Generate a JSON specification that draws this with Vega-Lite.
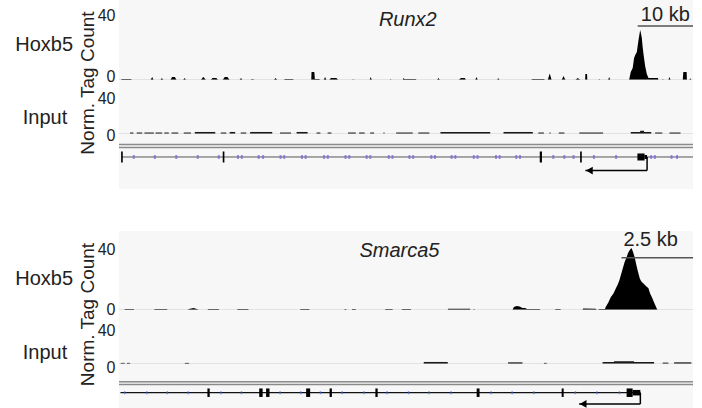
{
"$schema": "https://vega.github.io/schema/vega-lite/v6.json",
"padding": {"left": 15, "top": 0, "right": 0, "bottom": 0},
"spacing": 0,
"bounds": "flush",
"config": {
  "font": "Liberation Sans",
  "view": {"stroke": null, "fill": "#f7f7f7"},
  "axis": {"grid": false, "domain": false, "ticks": false, "labelFontSize": 16, "labelColor": "#222", "labelPadding": 4, "titleColor": "#222", "titleFontWeight": "normal", "labelBaseline": "middle"},
  "title": {"fontWeight": "normal", "color": "#222", "fontSize": 20}
},
"resolve": {"scale": {"x": "independent", "y": "independent"}},
"datasets": {
  "hoxTop": [
    {"pos":0,"v":0},{"pos":0.36,"v":0},{"pos":0.5,"v":0.7},{"pos":2.2,"v":0.7},{"pos":2.3,"v":0},
    {"pos":5.7,"v":0},{"pos":6.0,"v":2},{"pos":6.25,"v":0},
    {"pos":7.5,"v":0},{"pos":7.75,"v":1.3},{"pos":8.0,"v":0},
    {"pos":9.3,"v":0},{"pos":9.6,"v":2},{"pos":10.1,"v":2},{"pos":10.4,"v":0},
    {"pos":11.6,"v":0},{"pos":11.85,"v":1.3},{"pos":12.1,"v":0},
    {"pos":14.8,"v":0},{"pos":15.2,"v":2},{"pos":15.4,"v":1.5},{"pos":15.7,"v":0},
    {"pos":16.6,"v":0},{"pos":16.9,"v":1.3},{"pos":17.6,"v":1.3},{"pos":17.9,"v":0},
    {"pos":18.75,"v":0},{"pos":19.1,"v":2},{"pos":19.6,"v":2},{"pos":20.0,"v":0},
    {"pos":21.8,"v":0},{"pos":22.05,"v":1.3},{"pos":22.3,"v":0},
    {"pos":23.8,"v":0},{"pos":24.1,"v":0.7},{"pos":24.5,"v":0},
    {"pos":28.0,"v":0},{"pos":28.3,"v":1.3},{"pos":28.6,"v":0},
    {"pos":29.8,"v":0},{"pos":30.0,"v":0.7},{"pos":31.4,"v":0.7},{"pos":31.6,"v":0},
    {"pos":34.75,"v":0},{"pos":34.8,"v":5.3},{"pos":35.3,"v":5.3},{"pos":35.4,"v":0.7},{"pos":36.2,"v":0.7},{"pos":36.3,"v":0},
    {"pos":37.0,"v":0},{"pos":37.25,"v":2},{"pos":37.5,"v":0},
    {"pos":38.0,"v":0},{"pos":38.3,"v":1.3},{"pos":39.3,"v":1.3},{"pos":39.6,"v":0},
    {"pos":42.2,"v":0},{"pos":42.3,"v":0.7},{"pos":42.45,"v":0},
    {"pos":45.3,"v":0},{"pos":45.5,"v":2},{"pos":45.7,"v":0},
    {"pos":49.0,"v":0},{"pos":49.1,"v":0.7},{"pos":49.25,"v":0},
    {"pos":51.3,"v":0},{"pos":51.4,"v":1.3},{"pos":51.6,"v":0.7},{"pos":53.6,"v":0.7},{"pos":53.8,"v":0},
    {"pos":57.5,"v":0},{"pos":57.75,"v":1.3},{"pos":58.0,"v":0},
    {"pos":61.4,"v":0},{"pos":61.8,"v":1.3},{"pos":62.5,"v":1.3},{"pos":62.7,"v":0},
    {"pos":64.4,"v":0},{"pos":64.6,"v":2},{"pos":64.85,"v":0},
    {"pos":68.35,"v":0},{"pos":68.55,"v":1.3},{"pos":68.75,"v":0},
    {"pos":74.5,"v":0},{"pos":74.7,"v":0.7},{"pos":76.8,"v":0.7},{"pos":77.0,"v":0},
    {"pos":77.5,"v":0},{"pos":77.85,"v":4.3},{"pos":78.2,"v":0},
    {"pos":80.0,"v":0},{"pos":80.35,"v":2.7},{"pos":80.7,"v":0},
    {"pos":82.5,"v":0},{"pos":82.9,"v":1.3},{"pos":83.4,"v":0},
    {"pos":84.25,"v":0},{"pos":84.3,"v":4},{"pos":84.6,"v":4},{"pos":84.65,"v":0},
    {"pos":86.7,"v":0},{"pos":86.8,"v":0.7},{"pos":86.95,"v":0},
    {"pos":88.4,"v":0},{"pos":88.6,"v":2},{"pos":88.8,"v":0},
    {"pos":92.2,"v":0},{"pos":92.5,"v":5.3},{"pos":92.85,"v":8},{"pos":93.1,"v":14.7},{"pos":93.35,"v":17},{"pos":93.6,"v":18.7},{"pos":93.9,"v":26.7},{"pos":94.05,"v":30},{"pos":94.2,"v":33.3},{"pos":94.35,"v":31},{"pos":94.5,"v":28},{"pos":94.65,"v":22},{"pos":94.8,"v":17.3},{"pos":95.1,"v":9.3},{"pos":95.4,"v":4},{"pos":95.7,"v":1.3},{"pos":96.4,"v":1.3},{"pos":97.4,"v":1.3},{"pos":97.5,"v":0},
    {"pos":98.2,"v":0},{"pos":98.3,"v":0.7},{"pos":98.45,"v":0},
    {"pos":99.3,"v":0},{"pos":99.5,"v":2},{"pos":99.7,"v":0},
    {"pos":101.9,"v":0},{"pos":102.0,"v":5.3},{"pos":102.6,"v":5.3},{"pos":102.65,"v":0},
    {"pos":103.1,"v":0},{"pos":103.25,"v":1.3},{"pos":103.4,"v":0},{"pos":103.75,"v":0}
  ],
  "inTop": [
    {"start":2.0,"end":2.6,"v":1.6},{"start":3.2,"end":4.2,"v":1.6},{"start":4.6,"end":6.3,"v":1.6},{"start":6.6,"end":7.8,"v":1.6},{"start":8.2,"end":9.0,"v":1.6},{"start":9.5,"end":10.7,"v":1.6},
    {"start":11.7,"end":13.0,"v":1.6},{"start":13.7,"end":17.4,"v":2.2},{"start":18.4,"end":19.4,"v":1.6},{"start":20.0,"end":21.0,"v":2.2},{"start":22.0,"end":23.0,"v":1.6},{"start":23.7,"end":27.7,"v":2.2},
    {"start":29.1,"end":31.1,"v":1.6},{"start":32.1,"end":34.1,"v":2.2},{"start":35.7,"end":36.4,"v":1.6},{"start":37.7,"end":38.4,"v":1.6},{"start":41.4,"end":42.8,"v":1.6},{"start":43.4,"end":44.4,"v":1.6},
    {"start":45.4,"end":46.1,"v":1.6},{"start":47.8,"end":48.0,"v":1.6},{"start":50.1,"end":53.1,"v":1.6},{"start":54.1,"end":56.1,"v":1.6},{"start":58.1,"end":67.1,"v":2.2},{"start":69.5,"end":74.8,"v":2.2},
    {"start":75.8,"end":76.8,"v":1.6},{"start":77.8,"end":78.0,"v":1.6},{"start":79.5,"end":80.5,"v":1.6},{"start":83.2,"end":87.5,"v":1.6},{"start":92.5,"end":96.2,"v":2.2},{"start":94.2,"end":94.9,"v":3.5},
    {"start":96.9,"end":98.2,"v":1.6},{"start":99.5,"end":101.5,"v":1.6}
  ],
  "intTop": [
    {"pos":2.67},{"pos":6.48},{"pos":10.35},{"pos":14.23},{"pos":18.04},
    {"pos":21.5},{"pos":22.2},{"pos":25.25},{"pos":26.05},{"pos":29.2},{"pos":29.86},{"pos":33.07},{"pos":33.73},{"pos":37.07},{"pos":37.74},
    {"pos":40.95},{"pos":41.62},{"pos":44.76},{"pos":45.42},{"pos":48.76},{"pos":49.43},{"pos":52.5},{"pos":53.17},{"pos":56.45},{"pos":57.11},
    {"pos":60.12},{"pos":60.79},{"pos":64.13},{"pos":64.8},{"pos":68.14},{"pos":68.8},{"pos":71.81},{"pos":72.48},
    {"pos":78.49},{"pos":80.49},{"pos":82.16},{"pos":85.84},{"pos":89.85},{"pos":96.19},{"pos":96.86},{"pos":99.87},{"pos":100.87}
  ],
  "exTop": [
    {"start":0.38,"end":0.68,"part":"exon"},{"start":18.75,"end":19.05,"part":"exon"},{"start":76.05,"end":76.45,"part":"exon"},{"start":83.35,"end":83.65,"part":"exon"},
    {"start":93.7,"end":95.0,"part":"block"},{"start":95.0,"end":95.45,"part":"utr"}
  ],
  "tssTop": [{"tss":95.45,"tip":84.3}],
  "hoxBot": [
    {"pos":0,"v":0},{"pos":0.19,"v":0},{"pos":0.2,"v":0.7},{"pos":0.52,"v":0.7},{"pos":0.53,"v":0},
    {"pos":1.23,"v":0},{"pos":1.24,"v":0.7},{"pos":1.68,"v":0.7},{"pos":1.69,"v":0},
    {"pos":2.39,"v":0},{"pos":2.45,"v":0.7},{"pos":2.6,"v":1.3},{"pos":2.72,"v":0.7},{"pos":2.78,"v":0},
    {"pos":3.1,"v":0},{"pos":3.11,"v":0.7},{"pos":3.49,"v":0.7},{"pos":3.5,"v":0},
    {"pos":4.13,"v":0},{"pos":4.14,"v":0.7},{"pos":4.52,"v":0.7},{"pos":4.53,"v":0},
    {"pos":6.33,"v":0},{"pos":6.34,"v":0.7},{"pos":6.65,"v":0.7},{"pos":6.66,"v":0},
    {"pos":7.88,"v":0},{"pos":7.89,"v":0.7},{"pos":7.94,"v":0.7},{"pos":7.95,"v":0},
    {"pos":8.14,"v":0},{"pos":8.15,"v":0.7},{"pos":8.27,"v":0.7},{"pos":8.28,"v":0},
    {"pos":9.3,"v":0},{"pos":9.31,"v":0.7},{"pos":9.56,"v":0.7},{"pos":9.57,"v":0},
    {"pos":9.88,"v":0},{"pos":9.89,"v":0.7},{"pos":10.2,"v":0.7},{"pos":10.21,"v":0},
    {"pos":11.49,"v":0},{"pos":11.5,"v":0.9},{"pos":12.27,"v":0.9},{"pos":12.28,"v":0},
    {"pos":12.38,"v":0},{"pos":12.4,"v":0.7},{"pos":12.45,"v":0},
    {"pos":13.75,"v":0},{"pos":13.8,"v":2},{"pos":13.9,"v":2.7},{"pos":14.0,"v":2.3},{"pos":14.1,"v":1.3},{"pos":14.2,"v":1.3},{"pos":14.25,"v":0.7},{"pos":14.7,"v":0.7},{"pos":14.72,"v":0},
    {"pos":15.24,"v":0},{"pos":15.25,"v":0.7},{"pos":15.43,"v":0.7},{"pos":15.44,"v":0},
    {"pos":16.2,"v":0},{"pos":16.22,"v":1},{"pos":16.66,"v":0.8},{"pos":16.7,"v":0},
    {"pos":16.75,"v":0},{"pos":16.77,"v":0.7},{"pos":16.98,"v":0.7},
    {"pos":17.01,"v":2},{"pos":17.1,"v":5},{"pos":17.19,"v":8.7},{"pos":17.28,"v":11},{"pos":17.37,"v":14.7},{"pos":17.43,"v":17},{"pos":17.49,"v":20},{"pos":17.55,"v":24},{"pos":17.61,"v":28},{"pos":17.67,"v":32},{"pos":17.73,"v":34.7},{"pos":17.79,"v":38},{"pos":17.85,"v":40},{"pos":17.91,"v":41.3},{"pos":17.96,"v":39},{"pos":18.02,"v":35.3},{"pos":18.08,"v":30},{"pos":18.14,"v":25.3},{"pos":18.2,"v":21},{"pos":18.24,"v":19.5},{"pos":18.27,"v":18.7},{"pos":18.32,"v":17.8},{"pos":18.38,"v":16.7},{"pos":18.44,"v":15.5},{"pos":18.5,"v":14.7},{"pos":18.56,"v":11},{"pos":18.62,"v":8.7},{"pos":18.7,"v":5},{"pos":18.8,"v":0.7},{"pos":18.82,"v":0},{"pos":20.06,"v":0}
  ],
  "inBot": [
    {"start":0.06,"end":0.2,"v":1.2},{"start":0.28,"end":0.39,"v":1.2},{"start":2.3,"end":2.45,"v":1.2},{"start":10.65,"end":11.49,"v":2.2},{"start":13.6,"end":14.1,"v":1.8},
    {"start":14.85,"end":14.95,"v":1.2},{"start":16.9,"end":18.7,"v":2.2},{"start":17.3,"end":18.0,"v":3.0},{"start":19.0,"end":19.2,"v":1.5},{"start":19.4,"end":20.0,"v":1.8}
  ],
  "intBot": [
    {"pos":0.2},{"pos":0.97},{"pos":1.69},{"pos":2.42},{"pos":3.56},{"pos":4.28},{"pos":5.63},{"pos":6.35},{"pos":7.04},{"pos":7.8},{"pos":8.56},
    {"pos":9.36},{"pos":10.12},{"pos":10.84},{"pos":11.6},{"pos":13.0},{"pos":13.74},{"pos":14.5},{"pos":15.95},{"pos":16.7},{"pos":17.49}
  ],
  "exBot": [
    {"start":3.09,"end":3.17,"part":"exon"},{"start":4.9,"end":5.02,"part":"exon"},{"start":5.14,"end":5.26,"part":"exon"},{"start":6.54,"end":6.68,"part":"exon"},
    {"start":7.36,"end":7.44,"part":"exon"},{"start":8.96,"end":9.04,"part":"exon"},{"start":12.5,"end":12.6,"part":"exon"},{"start":15.47,"end":15.54,"part":"exon"},
    {"start":17.74,"end":17.95,"part":"exon"},{"start":17.95,"end":18.22,"part":"utr"}
  ],
  "tssBot": [{"tss":18.22,"tip":16.08}]
},
"vconcat": [
  {
    "width": 574, "height": 80,
    "title": {"text": "Hoxb5", "orient": "left", "angle": 0, "align": "left", "baseline": "middle", "anchor": "middle", "frame": "group", "offset": 5, "dy": 5},
    "layer": [
      {"data": {"name": "hoxTop"}, "mark": {"type": "area", "color": "#000", "interpolate": "linear"},
       "encoding": {
         "x": {"field": "pos", "type": "quantitative", "scale": {"domain": [0, 103.75], "nice": false, "zero": false}, "axis": null},
         "y": {"field": "v", "type": "quantitative", "scale": {"domain": [0, 53.33], "nice": false}, "axis": {"values": [0, 40], "title": "Norm. Tag Count", "titleFontSize": 19, "titleAngle": -90, "titleX": -32, "titleY": 82.5, "titleAlign": "center", "titleBaseline": "middle", "labelOffset": -4}}
       }},
      {"data": {"values": [{"pos": 0}]}, "mark": {"type": "rule", "color": "#cfcfcf", "strokeWidth": 1}, "encoding": {"y": {"field": "pos", "type": "quantitative"}}},
      {"data": {"values": [{"start": 93.75, "end": 103.75, "h": 36}]}, "mark": {"type": "rule", "color": "#555", "strokeWidth": 1.5},
       "encoding": {"x": {"field": "start", "type": "quantitative"}, "x2": {"field": "end"}, "y": {"field": "h", "type": "quantitative"}}},
      {"data": {"values": [{"mid": 98.75, "h": 43.3, "label": "10 kb"}]}, "mark": {"type": "text", "fontSize": 20, "color": "#222"},
       "encoding": {"x": {"field": "mid", "type": "quantitative"}, "y": {"field": "h", "type": "quantitative"}, "text": {"field": "label", "type": "nominal"}}},
      {"data": {"values": [{"gene": "Runx2", "pos": 52.2, "h": 40.3}]}, "mark": {"type": "text", "fontSize": 20, "fontStyle": "italic", "color": "#222"},
       "encoding": {"x": {"field": "pos", "type": "quantitative"}, "y": {"field": "h", "type": "quantitative"}, "text": {"field": "gene", "type": "nominal"}}}
    ]
  },
  {
    "width": 574, "height": 54,
    "title": {"text": "Input", "orient": "left", "angle": 0, "align": "left", "baseline": "middle", "anchor": "middle", "frame": "group", "offset": 30, "dy": 11},
    "layer": [
      {"data": {"name": "inTop"}, "mark": {"type": "rect", "color": "#1a1a1a"},
       "encoding": {
         "x": {"field": "start", "type": "quantitative", "scale": {"domain": [0, 103.75], "nice": false, "zero": false}, "axis": null},
         "x2": {"field": "end"},
         "y": {"field": "v", "type": "quantitative", "scale": {"domain": [0, 58.38], "nice": false}, "axis": {"values": [0, 40], "title": null, "labelOffset": 1}},
         "y2": {"datum": 0}
       }},
      {"data": {"values": [{"v": 0}]}, "mark": {"type": "rule", "color": "#cfcfcf", "strokeWidth": 1}, "encoding": {"y": {"field": "v", "type": "quantitative"}}}
    ]
  },
  {
    "width": 574, "height": 97,
    "layer": [
      {"data": {"values": [{"a": 0, "b": 103.75, "y1": 10, "y2": 17.64}]}, "mark": {"type": "rect", "color": "white"},
       "encoding": {"x": {"field": "a", "type": "quantitative", "scale": {"domain": [0, 103.75], "nice": false, "zero": false}, "axis": null}, "x2": {"field": "b"},
                    "y": {"field": "y1", "type": "quantitative", "scale": {"domain": [0, 17.64], "reverse": true, "nice": false, "zero": false}, "axis": null}, "y2": {"field": "y2"}}},
      {"data": {"values": [{"a": 0, "b": 103.75, "lane": 1.91}, {"a": 0, "b": 103.75, "lane": 2.45}]}, "mark": {"type": "rule", "color": "#8a8a8a", "strokeWidth": 1.5},
       "encoding": {"x": {"field": "a", "type": "quantitative"}, "x2": {"field": "b"}, "y": {"field": "lane", "type": "quantitative"}}},
      {"data": {"values": [{"start": 0.53, "end": 103.75, "lane": 4.18}]}, "mark": {"type": "rule", "color": "#555", "strokeWidth": 1},
       "encoding": {"x": {"field": "start", "type": "quantitative"}, "x2": {"field": "end"}, "y": {"field": "lane", "type": "quantitative"}}},
      {"data": {"name": "intTop"}, "mark": {"type": "tick", "orient": "vertical", "color": "#7b5ce0", "size": 4, "thickness": 2},
       "encoding": {"x": {"field": "pos", "type": "quantitative"}, "y": {"datum": 4.18, "type": "quantitative"}}},
      {"data": {"name": "exTop"}, "transform": [{"filter": "datum.part === 'exon'"}], "mark": {"type": "rule", "color": "#000", "strokeWidth": 11, "strokeCap": "butt"},
       "encoding": {"x": {"field": "start", "type": "quantitative"}, "x2": {"field": "end"}, "y": {"datum": 4.18, "type": "quantitative"}}},
      {"data": {"name": "exTop"}, "transform": [{"filter": "datum.part === 'block'"}], "mark": {"type": "rule", "color": "#000", "strokeWidth": 7, "strokeCap": "butt"},
       "encoding": {"x": {"field": "start", "type": "quantitative"}, "x2": {"field": "end"}, "y": {"datum": 4.18, "type": "quantitative"}}},
      {"data": {"name": "exTop"}, "transform": [{"filter": "datum.part === 'utr'"}], "mark": {"type": "rule", "color": "#000", "strokeWidth": 4, "strokeCap": "butt"},
       "encoding": {"x": {"field": "start", "type": "quantitative"}, "x2": {"field": "end"}, "y": {"datum": 4.18, "type": "quantitative"}}},
      {"data": {"name": "tssTop"}, "mark": {"type": "rule", "color": "#000", "strokeWidth": 1.5},
       "encoding": {"x": {"field": "tss", "type": "quantitative"}, "y": {"datum": 4.18, "type": "quantitative"}, "y2": {"datum": 6.64}}},
      {"data": {"name": "tssTop"}, "mark": {"type": "rule", "color": "#000", "strokeWidth": 1.5},
       "encoding": {"x": {"field": "tss", "type": "quantitative"}, "x2": {"field": "tip"}, "y": {"datum": 6.64, "type": "quantitative"}}},
      {"data": {"name": "tssTop"}, "mark": {"type": "point", "shape": "triangle-left", "filled": true, "color": "#000", "size": 60, "opacity": 1, "xOffset": 4},
       "encoding": {"x": {"field": "tip", "type": "quantitative"}, "y": {"datum": 6.64, "type": "quantitative"}}}
    ]
  },
  {
    "width": 574, "height": 79,
    "title": {"text": "Hoxb5", "orient": "left", "angle": 0, "align": "left", "baseline": "middle", "anchor": "middle", "frame": "group", "offset": 5, "dy": 8.5},
    "layer": [
      {"data": {"name": "hoxBot"}, "mark": {"type": "area", "color": "#000", "interpolate": "linear"},
       "encoding": {
         "x": {"field": "pos", "type": "quantitative", "scale": {"domain": [0, 20.06], "nice": false, "zero": false}, "axis": null},
         "y": {"field": "v", "type": "quantitative", "scale": {"domain": [0, 52.67], "nice": false}, "axis": {"values": [0, 40], "title": "Norm. Tag Count", "titleFontSize": 19, "titleAngle": -90, "titleX": -32, "titleY": 83, "titleAlign": "center", "titleBaseline": "middle", "labelOffset": -1}}
       }},
      {"data": {"values": [{"pos": 0}]}, "mark": {"type": "rule", "color": "#cfcfcf", "strokeWidth": 1}, "encoding": {"y": {"field": "pos", "type": "quantitative"}}},
      {"data": {"values": [{"start": 17.56, "end": 20.06, "h": 34.9}]}, "mark": {"type": "rule", "color": "#555", "strokeWidth": 1.5},
       "encoding": {"x": {"field": "start", "type": "quantitative"}, "x2": {"field": "end"}, "y": {"field": "h", "type": "quantitative"}}},
      {"data": {"values": [{"mid": 18.58, "h": 46.7, "label": "2.5 kb"}]}, "mark": {"type": "text", "fontSize": 20, "color": "#222"},
       "encoding": {"x": {"field": "mid", "type": "quantitative"}, "y": {"field": "h", "type": "quantitative"}, "text": {"field": "label", "type": "nominal"}}},
      {"data": {"values": [{"gene": "Smarca5", "pos": 9.8, "h": 39.3}]}, "mark": {"type": "text", "fontSize": 20, "fontStyle": "italic", "color": "#222"},
       "encoding": {"x": {"field": "pos", "type": "quantitative"}, "y": {"field": "h", "type": "quantitative"}, "text": {"field": "gene", "type": "nominal"}}}
    ]
  },
  {
    "width": 574, "height": 54,
    "title": {"text": "Input", "orient": "left", "angle": 0, "align": "left", "baseline": "middle", "anchor": "middle", "frame": "group", "offset": 30, "dy": 15.5},
    "layer": [
      {"data": {"name": "inBot"}, "mark": {"type": "rect", "color": "#1a1a1a"},
       "encoding": {
         "x": {"field": "start", "type": "quantitative", "scale": {"domain": [0, 20.06], "nice": false, "zero": false}, "axis": null},
         "x2": {"field": "end"},
         "y": {"field": "v", "type": "quantitative", "scale": {"domain": [0, 58.38], "nice": false}, "axis": {"values": [0, 40], "title": null, "labelOffset": 3}},
         "y2": {"datum": 0}
       }},
      {"data": {"values": [{"v": 0}]}, "mark": {"type": "rule", "color": "#cfcfcf", "strokeWidth": 1}, "encoding": {"y": {"field": "v", "type": "quantitative"}}}
    ]
  },
  {
    "width": 574, "height": 44,
    "layer": [
      {"data": {"values": [{"a": 0, "b": 20.06, "lane": 3.22}, {"a": 0, "b": 20.06, "lane": 3.73}]}, "mark": {"type": "rule", "color": "#8a8a8a", "strokeWidth": 1.5},
       "encoding": {"x": {"field": "a", "type": "quantitative", "scale": {"domain": [0, 20.06], "nice": false, "zero": false}, "axis": null}, "x2": {"field": "b"},
                    "y": {"field": "lane", "type": "quantitative", "scale": {"domain": [0, 8], "reverse": true, "nice": false, "zero": false}, "axis": null}}},
      {"data": {"values": [{"start": 0.05, "end": 18.22, "lane": 5.22}]}, "mark": {"type": "rule", "color": "#111", "strokeWidth": 1.2},
       "encoding": {"x": {"field": "start", "type": "quantitative"}, "x2": {"field": "end"}, "y": {"field": "lane", "type": "quantitative"}}},
      {"data": {"name": "intBot"}, "mark": {"type": "tick", "orient": "vertical", "color": "#3c6ed8", "size": 3, "thickness": 1.5},
       "encoding": {"x": {"field": "pos", "type": "quantitative"}, "y": {"datum": 5.22, "type": "quantitative"}}},
      {"data": {"name": "exBot"}, "transform": [{"filter": "datum.part === 'exon'"}], "mark": {"type": "rule", "color": "#000", "strokeWidth": 8.5, "strokeCap": "butt"},
       "encoding": {"x": {"field": "start", "type": "quantitative"}, "x2": {"field": "end"}, "y": {"datum": 5.22, "type": "quantitative"}}},
      {"data": {"name": "exBot"}, "transform": [{"filter": "datum.part === 'utr'"}], "mark": {"type": "rule", "color": "#000", "strokeWidth": 5.5, "strokeCap": "butt"},
       "encoding": {"x": {"field": "start", "type": "quantitative"}, "x2": {"field": "end"}, "y": {"datum": 5.22, "type": "quantitative"}}},
      {"data": {"name": "tssBot"}, "mark": {"type": "rule", "color": "#000", "strokeWidth": 1.5},
       "encoding": {"x": {"field": "tss", "type": "quantitative"}, "y": {"datum": 5.22, "type": "quantitative"}, "y2": {"datum": 7.27}}},
      {"data": {"name": "tssBot"}, "mark": {"type": "rule", "color": "#000", "strokeWidth": 1.5},
       "encoding": {"x": {"field": "tss", "type": "quantitative"}, "x2": {"field": "tip"}, "y": {"datum": 7.27, "type": "quantitative"}}},
      {"data": {"name": "tssBot"}, "mark": {"type": "point", "shape": "triangle-left", "filled": true, "color": "#000", "size": 60, "opacity": 1, "xOffset": 4},
       "encoding": {"x": {"field": "tip", "type": "quantitative"}, "y": {"datum": 7.27, "type": "quantitative"}}}
    ]
  }
]
}
